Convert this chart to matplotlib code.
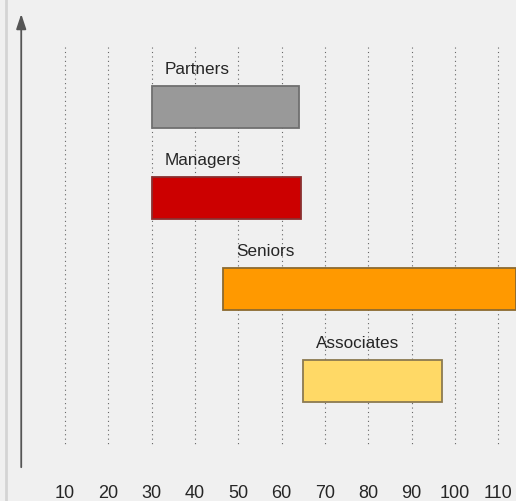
import matplotlib.pyplot as plt

# staffing ranges per level
levels = ['Partners', 'Managers', 'Seniors', 'Associates']
start = [30, 30, 46.5, 65]
end = [64, 64.5, 114, 97]
fill_colors = ['#999999', '#cc0000', '#ff9900', '#ffd966']
edge_colors = ['#6f6f6f', '#8a3030', '#8c6a30', '#8c7a50']
ticks = [10, 20, 30, 40, 50, 60, 70, 80, 90, 100, 110]

plt.rcParams['font.family'] = ['Liberation Sans', 'DejaVu Sans']

fig = plt.figure(figsize=(5.16, 5.01), dpi=100, facecolor='#f0f0f0')
ax = fig.add_axes([0, 0, 1, 1])
ax.set_facecolor('#f0f0f0')
ax.set_xlim(-5.0, 114.1)
ax.set_ylim(4.32, -1.173)
ax.axis('off')

# dotted grid
ax.vlines(ticks, -0.66, 3.71, colors='#666666', linestyles=(0, (1, 3)), linewidth=0.8, zorder=1)

bar_h = 0.46
for i, lev in enumerate(levels):
    ax.barh(i, end[i] - start[i], left=start[i], height=bar_h,
            color=fill_colors[i], edgecolor=edge_colors[i], linewidth=1.3, zorder=3)
    ax.text(start[i] + 3, i - bar_h / 2 - 0.1, lev, fontsize=12.3, color='#262626',
            ha='left', va='bottom', zorder=4)

# y axis arrow
ax.annotate('', xy=(-0.1, -1.05), xytext=(-0.1, 3.98),
            arrowprops=dict(arrowstyle='-|>,head_length=0.9,head_width=0.3',
                            color='#555555', lw=1.3))

for t in ticks:
    ax.text(t, 4.24, str(t), fontsize=13, color='#262626', ha='center', va='center')

# left border shadow
fig.add_artist(plt.Line2D([0.011, 0.011], [0, 1], color='#d4d4d4', lw=2, transform=fig.transFigure))

fig.savefig('out.png', dpi=100, facecolor=fig.get_facecolor())
